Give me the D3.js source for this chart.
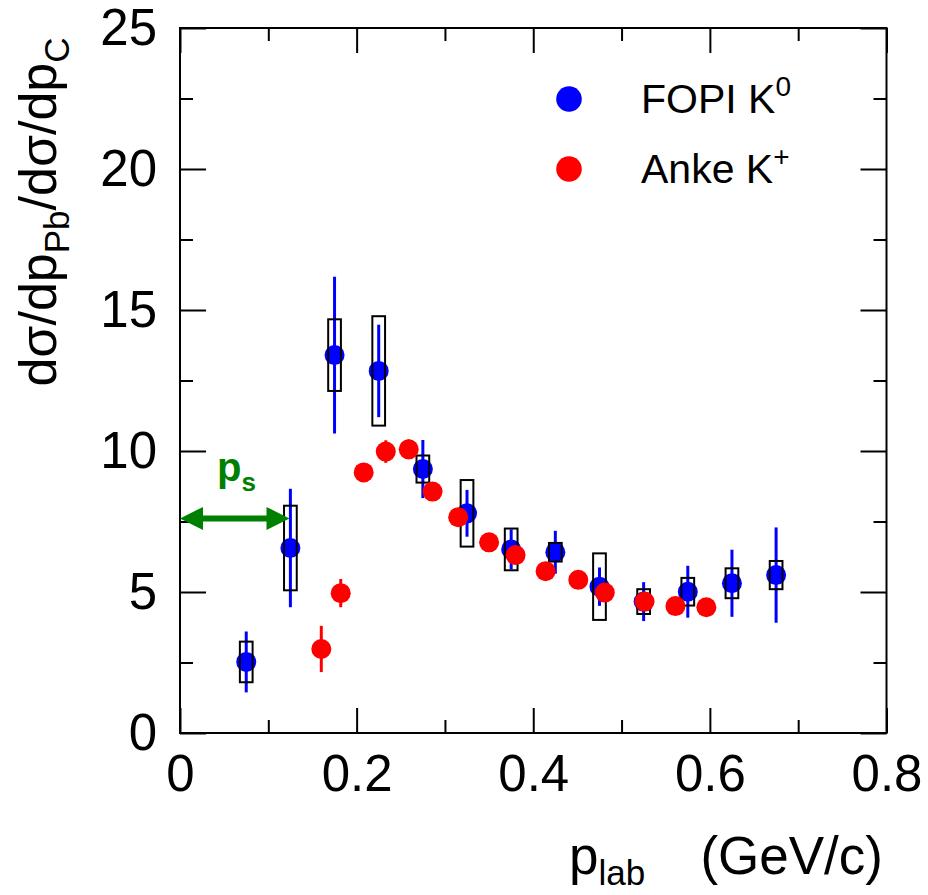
<!DOCTYPE html>
<html>
<head>
<meta charset="utf-8">
<script src="https://cdn.jsdelivr.net/npm/d3@7"></script>
<style>
  html, body { margin: 0; padding: 0; background: #fff; }
  svg { display: block; }
  text { font-family: "Liberation Sans", Arial, Helvetica, sans-serif; }
</style>
</head>
<body>
<svg id="chart" width="928" height="895"></svg>
<script>
// ---------------- data ----------------
const fopiP    = [0.075, 0.125, 0.175, 0.225, 0.275, 0.325, 0.375, 0.425, 0.475, 0.525, 0.575, 0.625, 0.675];
const fopiY    = [2.52, 6.56, 13.40, 12.84, 9.36, 7.79, 6.51, 6.41, 5.19, 4.66, 5.01, 5.31, 5.60];
const fopiStat = [1.08, 2.10, 2.78, 1.64, 1.03, 0.83, 0.71, 0.76, 0.68, 0.69, 0.92, 1.19, 1.69];
const fopiSys  = [0.72, 1.50, 1.27, 1.94, 0.48, 1.18, 0.74, 0.33, 1.18, 0.44, 0.49, 0.53, 0.50];
const sysHalfWidth = 0.0072;

const ankeP   = [0.160, 0.182, 0.208, 0.233, 0.259, 0.286, 0.315, 0.350, 0.380, 0.414, 0.451, 0.481, 0.526, 0.561, 0.596];
const ankeY   = [2.98, 4.96, 9.24, 9.98, 10.06, 8.56, 7.65, 6.76, 6.31, 5.74, 5.43, 4.98, 4.66, 4.50, 4.46];
const ankeErr = [0.82, 0.50, 0.30, 0.40, 0.35, 0.30, 0.30, 0.30, 0.30, 0.30, 0.30, 0.30, 0.30, 0.30, 0.30];

const xMajor = [0, 0.2, 0.4, 0.6, 0.8];
const xMinor = [0.1, 0.3, 0.5, 0.7];
const yMajor = [0, 5, 10, 15, 20, 25];
const yMinor = [2.5, 7.5, 12.5, 17.5, 22.5];

const legendLabels = [
  { name: "FOPI K", sup: "0", color: "#0000ff" },
  { name: "Anke K", sup: "+", color: "#ff0000" }
];
const psArrow = { x0: 0.0, x1: 0.124, y: 7.61, label: "p", sub: "s" };

// ---------------- layout ----------------
const svg = d3.select("#chart");
const L = 180, R = 886.5, T = 28, B = 733;
const x = d3.scaleLinear().domain([0, 0.8]).range([L, R]);
const y = d3.scaleLinear().domain([0, 25]).range([B, T]);
const fmtX = d => d === 0 ? "0" : d3.format(".1f")(d);

function styleAxis(g) {
  g.select(".domain").remove();
  g.selectAll(".tick line").attr("stroke", "#000").attr("stroke-width", 2);
  g.selectAll(".tick text").attr("fill", "#000").attr("font-size", 51)
    .attr("font-family", '"Liberation Sans", Arial, sans-serif');
}

// bottom axis
svg.append("g").attr("transform", `translate(0,${B})`)
  .call(d3.axisBottom(x).tickValues(xMajor).tickSizeInner(-25).tickSizeOuter(0).tickPadding(22).tickFormat(fmtX))
  .call(styleAxis);
svg.append("g").attr("transform", `translate(0,${B})`)
  .call(d3.axisBottom(x).tickValues(xMinor).tickSizeInner(-13).tickSizeOuter(0).tickFormat(""))
  .call(styleAxis);
// top axis
svg.append("g").attr("transform", `translate(0,${T})`)
  .call(d3.axisTop(x).tickValues(xMajor).tickSizeInner(-25).tickSizeOuter(0).tickFormat(""))
  .call(styleAxis);
svg.append("g").attr("transform", `translate(0,${T})`)
  .call(d3.axisTop(x).tickValues(xMinor).tickSizeInner(-13).tickSizeOuter(0).tickFormat(""))
  .call(styleAxis);
// left axis
svg.append("g").attr("transform", `translate(${L},0)`)
  .call(d3.axisLeft(y).tickValues(yMajor).tickSizeInner(-26).tickSizeOuter(0).tickPadding(23).tickFormat(d3.format("d")))
  .call(styleAxis);
svg.append("g").attr("transform", `translate(${L},0)`)
  .call(d3.axisLeft(y).tickValues(yMinor).tickSizeInner(-13).tickSizeOuter(0).tickFormat(""))
  .call(styleAxis);
// right axis
svg.append("g").attr("transform", `translate(${R},0)`)
  .call(d3.axisRight(y).tickValues(yMajor).tickSizeInner(-26).tickSizeOuter(0).tickFormat(""))
  .call(styleAxis);
svg.append("g").attr("transform", `translate(${R},0)`)
  .call(d3.axisRight(y).tickValues(yMinor).tickSizeInner(-13).tickSizeOuter(0).tickFormat(""))
  .call(styleAxis);

// frame
svg.append("rect").attr("x", L).attr("y", T).attr("width", R - L).attr("height", B - T)
  .attr("fill", "none").attr("stroke", "#000").attr("stroke-width", 2);

// ---------------- FOPI ----------------
const fopi = fopiP.map((p, i) => ({ p, v: fopiY[i], s: fopiStat[i], sys: fopiSys[i] }));
const gF = svg.append("g");
gF.selectAll("circle").data(fopi).join("circle")
  .attr("cx", d => x(d.p)).attr("cy", d => y(d.v)).attr("r", 10).attr("fill", "#0000ff");
gF.selectAll("line").data(fopi).join("line")
  .attr("x1", d => x(d.p)).attr("x2", d => x(d.p))
  .attr("y1", d => y(d.v + d.s)).attr("y2", d => y(d.v - d.s))
  .attr("stroke", "#0000ff").attr("stroke-width", 3);
gF.selectAll("rect").data(fopi).join("rect")
  .attr("x", d => x(d.p - sysHalfWidth)).attr("width", d => x(d.p + sysHalfWidth) - x(d.p - sysHalfWidth))
  .attr("y", d => y(d.v + d.sys)).attr("height", d => y(d.v - d.sys) - y(d.v + d.sys))
  .attr("fill", "none").attr("stroke", "#000").attr("stroke-width", 2);

// ---------------- Anke ----------------
const anke = ankeP.map((p, i) => ({ p, v: ankeY[i], e: ankeErr[i] }));
const gA = svg.append("g");
gA.selectAll("line").data(anke).join("line")
  .attr("x1", d => x(d.p)).attr("x2", d => x(d.p))
  .attr("y1", d => y(d.v + d.e)).attr("y2", d => y(d.v - d.e))
  .attr("stroke", "#ff0000").attr("stroke-width", 3);
gA.selectAll("circle").data(anke).join("circle")
  .attr("cx", d => x(d.p)).attr("cy", d => y(d.v)).attr("r", 10).attr("fill", "#ff0000");

// ---------------- legend ----------------
const leg = svg.append("g");
legendLabels.forEach((l, i) => {
  const cy = 99 + i * 70;
  leg.append("circle").attr("cx", 569).attr("cy", cy).attr("r", 12.8).attr("fill", l.color);
  const t = leg.append("text").attr("x", 641).attr("y", cy + 14).attr("font-size", 41).attr("fill", "#000");
  t.append("tspan").text(l.name);
  t.append("tspan").attr("font-size", 28).attr("dy", -17).text(l.sup);
});

// ---------------- p_s arrow ----------------
const green = "#008000";
const ax0 = x(psArrow.x0), ax1 = x(psArrow.x1), ay = y(psArrow.y);
const headL = 23, headW = 11.5;
svg.append("line").attr("x1", ax0 + headL - 2).attr("x2", ax1 - headL + 2).attr("y1", ay).attr("y2", ay)
  .attr("stroke", green).attr("stroke-width", 6);
svg.append("path").attr("fill", green)
  .attr("d", `M${ax0},${ay} L${ax0 + headL},${ay - headW} L${ax0 + headL},${ay + headW} Z`);
svg.append("path").attr("fill", green)
  .attr("d", `M${ax1},${ay} L${ax1 - headL},${ay - headW} L${ax1 - headL},${ay + headW} Z`);
const ps = svg.append("text").attr("x", 217).attr("y", 481).attr("font-size", 40)
  .attr("font-weight", "bold").attr("fill", green);
ps.append("tspan").text(psArrow.label);
ps.append("tspan").attr("font-size", 26).attr("dy", 10).text(psArrow.sub);

// ---------------- axis titles ----------------
const xt = svg.append("text").attr("x", 569).attr("y", 874)
  .attr("font-size", 53).attr("fill", "#000");
xt.append("tspan").text("p");
xt.append("tspan").attr("font-size", 35).attr("dy", 11).text("lab");
svg.append("text").attr("x", 883).attr("y", 874).attr("text-anchor", "end")
  .attr("font-size", 53).attr("fill", "#000").text("(GeV/c)");

const yt = svg.append("text").attr("transform", "translate(56,212) rotate(-90)")
  .attr("text-anchor", "middle").attr("font-size", 52).attr("fill", "#000");
yt.append("tspan").text("dσ/dp");
yt.append("tspan").attr("font-size", 35).attr("dy", 13).text("Pb");
yt.append("tspan").attr("dy", -13).text("/dσ/dp");
yt.append("tspan").attr("font-size", 35).attr("dy", 13).text("C");
</script>
</body>
</html>
